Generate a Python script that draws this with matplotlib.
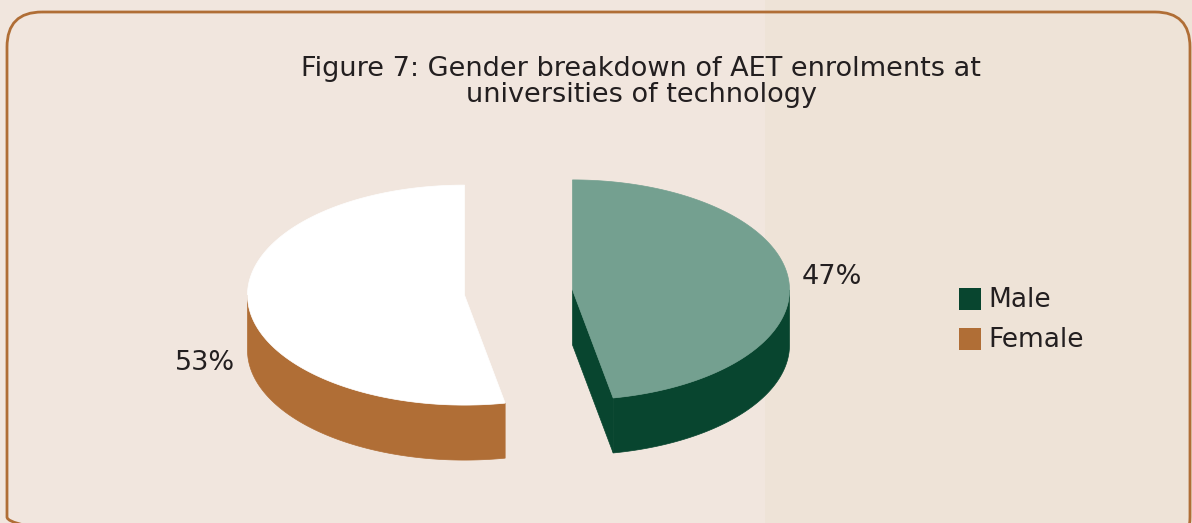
import numpy as np
import matplotlib
matplotlib.use("Agg")
import matplotlib.pyplot as plt
from matplotlib.patches import Polygon, FancyBboxPatch, Rectangle

# ---- data ----
categories = ["Male", "Female"]
shares = [47, 53]
top_colors = ["#74A090", "#FFFFFF"]
side_colors = ["#08452F", "#B06E36"]
legend_colors = ["#08452F", "#B06E36"]
title = "Figure 7: Gender breakdown of AET enrolments at\nuniversities of technology"

W, H = 1192, 523
fig = plt.figure(figsize=(W / 100, H / 100), dpi=100)
fig.patch.set_facecolor("#F1E6DE")
ax = fig.add_axes([0, 0, 1, 1])
ax.set_xlim(0, W)
ax.set_ylim(H, 0)
ax.axis("off")

# decorative lighter panel on the right
ax.add_patch(Rectangle((765, 0), W - 765, H, facecolor="#EEE3D7", edgecolor="none", zorder=0))

# rounded border
ax.add_patch(FancyBboxPatch((7 + 35, 12 + 35), 1183 - 70, 540 - 70,
                            boxstyle="round,pad=35", facecolor="none",
                            edgecolor="#B06E36", linewidth=2, zorder=1))

txt = "#231F20"
ax.text(641, 82, title, ha="center", va="center", fontsize=19.5,
        color=txt, linespacing=0.98, family="DejaVu Sans")

# ---- 3D pie geometry ----
cx0, cy0 = 518.5, 292.5
a, b, depth = 217.0, 110.0, 55.0
explode = 0.25


def pt(cx, cy, th, dy=0.0):
    return cx + a * np.sin(th), cy - b * np.cos(th) + dy


total = float(sum(shares))
start = 0.0
label_info = []
for i, v in enumerate(shares):
    sweep = 2 * np.pi * v / total
    end = start + sweep
    mid = (start + end) / 2
    cx = cx0 + explode * a * np.sin(mid)
    cy = cy0 - explode * b * np.cos(mid)

    # outer visible wall (angles between 90 and 270 deg)
    lo = max(start, np.pi / 2)
    hi = min(end, 3 * np.pi / 2)
    if hi > lo:
        th = np.linspace(lo, hi, 200)
        xs, ys = pt(cx, cy, th)
        xb, yb = pt(cx, cy, th[::-1], depth)
        poly = np.column_stack([np.r_[xs, xb], np.r_[ys, yb]])
        ax.add_patch(Polygon(poly, closed=True, facecolor=side_colors[i],
                             edgecolor=side_colors[i], linewidth=0.5, zorder=3))
    # cut face at end edge, visible if facing front
    if np.cos(end + np.pi / 2) < 0:
        ex, ey = pt(cx, cy, end)
        poly = [(cx, cy), (ex, ey), (ex, ey + depth), (cx, cy + depth)]
        ax.add_patch(Polygon(poly, closed=True, facecolor=side_colors[i],
                             edgecolor=side_colors[i], linewidth=0.5, zorder=3))
    # top face
    th = np.linspace(start, end, 300)
    xs, ys = pt(cx, cy, th)
    poly = np.column_stack([np.r_[cx, xs], np.r_[cy, ys]])
    ax.add_patch(Polygon(poly, closed=True, facecolor=top_colors[i],
                         edgecolor=top_colors[i], linewidth=0.5, zorder=4))
    label_info.append((cx, cy, mid, v))
    start = end

# percentage labels
for (cx, cy, mid, v) in label_info:
    lx, ly = pt(cx, cy, mid)
    lx = cx + 1.2 * (lx - cx)
    ly = cy + 1.2 * (ly - cy)
    if np.cos(mid) < 0 and np.sin(mid) < 0:
        ly += depth
    ax.text(lx, ly, f"{v}%", ha="center", va="center", fontsize=19.5,
            color=txt, family="DejaVu Sans")

# legend
for i, name in enumerate(categories):
    y = 299 + 40 * i
    ax.add_patch(Rectangle((959, y - 11), 22, 22, facecolor=legend_colors[i],
                           edgecolor="none", zorder=5))
    ax.text(988, y + 1, name, ha="left", va="center", fontsize=19,
            color=txt, family="DejaVu Sans")

fig.savefig("out.png", dpi=100, facecolor=fig.get_facecolor())
